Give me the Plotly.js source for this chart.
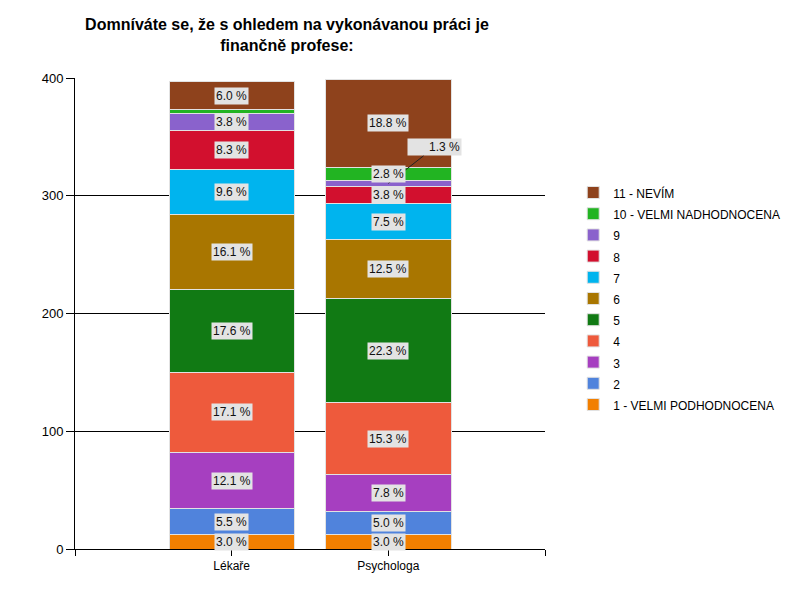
<!DOCTYPE html>
<html>
<head>
<meta charset="utf-8">
<script src="https://cdn.plot.ly/plotly-3.0.1.min.js"></script>
<style>
  body { margin: 0; background: #fff; }
  #chart { width: 800px; height: 600px; }
</style>
</head>
<body>
<div id="chart"></div>
<script>
// categories and series (counts)
var categories = ['Lékaře', 'Psychologa'];
var seriesNames = ['1 - VELMI PODHODNOCENA', '2', '3', '4', '5', '6', '7', '8', '9',
                   '10 - VELMI NADHODNOCENA', '11 - NEVÍM'];
var lekare     = [12, 22, 48, 68, 70, 64, 38, 33, 15, 3, 24];
var psychologa = [12, 20, 31, 61, 89, 50, 30, 15, 5, 11, 75];
var colors = ['#f27f00', '#5083dc', '#a63fc0', '#ee5a3c', '#117a14', '#a97600',
              '#00b4ee', '#d2102e', '#8a62cc', '#22b422', '#8e421c'];

var values = [lekare, psychologa];
var xpos = categories.map(function (c, i) { return i; });

var data = [];
for (let s = 0; s < seriesNames.length; s++) {
    data.push({
        // smaller span inside a bigger legend font -> taller legend rows
        name: '<span style="font-size:12px">' + seriesNames[s] + '</span>',
        type: 'bar',
        x: xpos,
        y: values.map(function (v) { return v[s]; }),
        width: 0.8,
        marker: { color: colors[s], line: { color: '#e2e2e2', width: 1 } },
        hoverinfo: 'name+y'
    });
}

// percentage labels in grey boxes
var annotations = [];
for (let c = 0; c < values.length; c++) {
    var total = values[c].reduce(function (a, b) { return a + b; }, 0);
    var base = 0;
    for (let s = 0; s < values[c].length; s++) {
        var v = values[c][s];
        var pct = v / total * 100;
        var mid = base + v / 2;
        base += v;
        if (pct < 1) continue;
        var ann = {
            x: xpos[c], y: mid, xref: 'x', yref: 'y',
            text: pct.toFixed(1) + ' %',
            font: { family: 'Liberation Sans, Arial, sans-serif', size: 12, color: '#111' },
            bgcolor: '#e3e3e3', borderpad: 1,
            showarrow: false
        };
        if (pct < 2) {
            ann.showarrow = true;
            ann.arrowhead = 0;
            ann.arrowwidth = 1;
            ann.arrowcolor = '#222';
            ann.ax = 46;
            ann.ay = -36;
            ann.text = '      ' + ann.text;
        }
        annotations.push(ann);
    }
}

var layout = {
    width: 800, height: 600,
    paper_bgcolor: '#fff', plot_bgcolor: '#fff',
    font: { family: 'Liberation Sans, Arial, sans-serif', size: 12, color: '#000' },
    margin: { l: 75, r: 255, t: 78, b: 51 },
    title: {
        text: '<b>Domníváte se, že s ohledem na vykonávanou práci je<br>finančně profese:</b>',
        font: { family: 'Liberation Sans, Arial, sans-serif', size: 16, color: '#000' },
        xref: 'paper', x: 0.451, xanchor: 'center',
        yref: 'container', y: 0.95, yanchor: 'top'
    },
    barmode: 'stack',
    bargap: 0.2,
    xaxis: {
        range: [-1, 2], fixedrange: true,
        tickmode: 'array', tickvals: [-1, 0, 1, 2], ticktext: [''].concat(categories).concat(['']),
        ticks: 'outside', ticklen: 6, tickcolor: '#000', tickwidth: 1,
        showline: true, linecolor: '#000', linewidth: 1,
        showgrid: false, zeroline: false,
        tickfont: { size: 12, color: '#000' }
    },
    yaxis: {
        range: [0, 400], fixedrange: true,
        tickmode: 'linear', tick0: 0, dtick: 100,
        ticks: 'outside', ticklen: 8, tickcolor: '#000',
        showline: true, linecolor: '#000', linewidth: 1,
        showgrid: true, gridcolor: '#000', gridwidth: 1,
        zeroline: false,
        tickfont: { size: 13, color: '#000' }
    },
    legend: {
        x: 1.06, xanchor: 'left', y: 0.79, yanchor: 'top',
        traceorder: 'reversed',
        font: { size: 14, color: '#000' },
        tracegroupgap: 0
    },
    annotations: annotations,
    showlegend: true
};

Plotly.newPlot('chart', data, layout, { displayModeBar: false, staticPlot: true });
</script>
</body>
</html>
